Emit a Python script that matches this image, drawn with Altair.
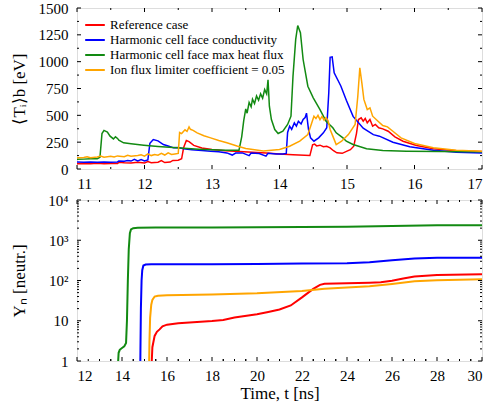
import altair as alt
import pandas as pd

# ---------------- data ----------------
series_names = [
    "Reference case",
    "Harmonic cell face conductivity",
    "Harmonic cell face max heat flux",
    "Ion flux limiter coefficient = 0.05",
]
series_colors = ["#ff0000", "#0000ff", "#128a12", "#ffa500"]

# top panel: <Ti>_b [eV] vs time [ns]
t_red = [11.0, 11.1, 11.2, 11.3, 11.4, 11.5, 11.6, 11.62, 11.7, 11.8, 11.9, 12.0, 12.05, 12.1, 12.2, 12.25,
         12.3, 12.38, 12.42, 12.5, 12.55, 12.58, 12.62, 12.66, 12.73, 12.85, 13.0, 13.2, 13.4, 13.6, 13.8,
         14.0, 14.2, 14.45, 14.49, 14.52, 14.55, 14.6, 14.65, 14.7, 14.75, 14.8, 14.85, 14.93, 15.0, 15.05,
         15.1, 15.14, 15.17, 15.21, 15.24, 15.27, 15.3, 15.34, 15.38, 15.42, 15.47, 15.53, 15.61, 15.71,
         15.83, 16.03, 16.28, 16.62, 17.0]
T_red = [50, 52, 48, 53, 50, 52, 51, 62, 58, 55, 62, 57, 70, 58, 63, 78,
         60, 65, 80, 82, 95, 200, 265, 255, 220, 195, 182, 170, 162, 155, 148,
         140, 132, 125, 225, 232, 215, 222, 207, 212, 197, 170, 151, 146, 166, 180,
         212, 330, 461, 477, 445, 470, 430, 461, 399, 415, 384, 374, 352, 300,
         259, 219, 188, 170, 163]

t_blue = [11.0, 11.1, 11.2, 11.3, 11.4, 11.5, 11.6, 11.62, 11.7, 11.75, 11.8, 11.85, 11.9, 11.95, 12.0,
          12.05, 12.08, 12.13, 12.2, 12.28, 12.35, 12.43, 12.5, 12.58, 12.7, 12.85, 12.98, 13.1, 13.22,
          13.3, 13.35, 13.45, 13.55, 13.58, 13.7, 13.8, 13.83, 13.95, 14.05, 14.1, 14.12, 14.15, 14.18,
          14.22, 14.25, 14.28, 14.32, 14.35, 14.38, 14.4, 14.43, 14.46, 14.51, 14.58, 14.65, 14.7, 14.73,
          14.75, 14.78, 14.81, 14.86, 14.91, 14.99, 15.09, 15.24, 15.39, 15.48, 15.68, 15.93, 16.28,
          16.62, 17.0]
T_blue = [65, 62, 66, 63, 65, 64, 66, 75, 72, 80, 74, 90, 76, 88, 75,
          85, 240, 275, 262, 228, 215, 197, 200, 188, 180, 172, 166, 160, 150,
          130, 148, 150, 125, 148, 145, 120, 146, 140, 140, 145, 340, 399, 370,
          430, 400, 445, 420, 461, 480, 520, 368, 290, 259, 290, 337, 384, 710,
          1040, 1045, 896, 834, 771, 640, 490, 380, 320, 306, 250, 207, 175,
          157, 148]

t_green = [11.0, 11.1, 11.2, 11.3, 11.34, 11.37, 11.4, 11.45, 11.49, 11.54, 11.57, 11.6, 11.62, 11.69,
           11.8, 11.99, 12.2, 12.48, 12.8, 13.0, 13.2, 13.4, 13.44, 13.47, 13.5, 13.52, 13.55, 13.58,
           13.6, 13.63, 13.66, 13.69, 13.72, 13.75, 13.78, 13.81, 13.83, 13.85, 13.88, 13.93, 13.98,
           14.05, 14.12, 14.17, 14.2, 14.24, 14.27, 14.31, 14.35, 14.42, 14.5, 14.6, 14.69, 14.79,
           14.84, 14.94, 14.99, 15.09, 15.29, 15.53, 15.88, 16.4, 17.0]
T_green = [90, 92, 95, 96, 110, 330, 360, 345, 306, 280, 300, 285, 268, 244,
           235, 222, 210, 197, 185, 180, 175, 175, 300, 450, 560, 520, 620, 580,
           650, 610, 680, 640, 700, 660, 740, 700, 830, 585, 461, 368, 331,
           352, 415, 492, 865, 1207, 1337, 1269, 1020, 771, 663, 554, 445, 384,
           337, 290, 259, 228, 188, 172, 166, 163, 160]

t_orange = [11.0, 11.1, 11.15, 11.2, 11.3, 11.35, 11.4, 11.5, 11.55, 11.6, 11.7, 11.75, 11.8, 11.9,
            11.95, 12.0, 12.05, 12.1, 12.15, 12.2, 12.25, 12.3, 12.35, 12.4, 12.45, 12.5, 12.52, 12.55,
            12.6, 12.63, 12.66, 12.68, 12.72, 12.78, 12.88, 12.98, 13.1, 13.22, 13.37, 13.5, 13.76,
            14.0, 14.15, 14.3, 14.42, 14.47, 14.51, 14.54, 14.57, 14.6, 14.63, 14.66, 14.69, 14.72,
            14.75, 14.79, 14.84, 14.92, 15.02, 15.12, 15.16, 15.19, 15.22, 15.25, 15.3, 15.34, 15.38,
            15.46, 15.53, 15.6, 15.68, 15.8, 16.0, 16.28, 16.62, 17.0]
T_orange = [105, 108, 115, 106, 112, 120, 110, 118, 112, 122, 115, 128, 118, 125,
            132, 120, 140, 125, 135, 128, 145, 130, 150, 135, 140, 145, 340, 330,
            365, 350, 392, 370, 360, 337, 310, 290, 265, 244, 215, 192, 168,
            182, 212, 259, 321, 415, 492, 470, 500, 460, 490, 455, 480, 450,
            368, 306, 228, 259, 321, 415, 678, 943, 803, 648, 554, 570, 492,
            445, 405, 393, 352, 290, 238, 197, 175, 166]

# bottom panel: neutron yield vs time [ns]
tb_red = [15.3, 15.35, 15.45, 15.55, 15.67, 15.8, 16.0, 16.5, 17.0, 18.0, 18.5, 19.0, 20.0, 20.5, 21.0,
          21.5, 22.0, 22.5, 22.8, 23.0, 24.0, 25.0, 25.5, 26.0, 26.5, 27.0, 28.0, 30.0]
Y_red = [0.5, 2.2, 4.2, 5.3, 6.1, 7.3, 8.0, 8.7, 9.1, 9.8, 10.5, 12, 14.5, 16.5, 19,
         24, 38, 62, 78, 83, 85, 88, 90, 98, 112, 125, 137, 142]

tb_blue = [14.81, 14.82, 14.84, 14.87, 14.9, 14.95, 15.05, 15.3, 16.0, 18.0, 20.0, 22.0, 24.0, 25.0,
           26.0, 27.0, 28.0, 30.0]
Y_blue = [0.5, 2, 20, 100, 180, 235, 250, 255, 255, 255, 258, 265, 270, 285, 320, 350, 365, 370]

tb_green = [13.8, 13.85, 13.9, 14.0, 14.1, 14.18, 14.22, 14.26, 14.3, 14.35, 14.4, 14.5, 14.7, 15.5,
            18.0, 20.0, 22.0, 24.0, 26.0, 28.0, 30.0]
Y_green = [0.5, 1.6, 1.9, 2.1, 2.3, 2.8, 10, 100, 600, 1500, 1850, 2000, 2050, 2080,
           2080, 2100, 2120, 2150, 2250, 2350, 2350]

tb_orange = [15.2, 15.22, 15.25, 15.3, 15.35, 15.45, 15.6, 16.0, 18.0, 20.0, 22.0, 23.0, 24.0, 25.0,
             26.0, 27.0, 28.0, 30.0]
Y_orange = [0.5, 3, 12, 25, 33, 40, 42, 43, 45, 48, 55, 62, 67, 72, 82, 96, 102, 108]

# axis ticks
top_x_major = [11, 12, 13, 14, 15, 16, 17]
top_x_minor = [11.5, 12.5, 13.5, 14.5, 15.5, 16.5]
top_y_major = [0, 250, 500, 750, 1000, 1250, 1500]
top_y_minor = [125, 375, 625, 875, 1125, 1375]
bot_x_major = [12, 14, 16, 18, 20, 22, 24, 26, 28, 30]
bot_x_minor = [x + d for x in range(12, 30) for d in (0.5, 1.0, 1.5) if (x + d) % 2 != 0 and x + d < 30]
bot_y_major = [1, 10, 100, 1000, 10000]
bot_y_minor = [m * 10 ** e for e in range(4) for m in range(2, 10)]

# ---------------- chart ----------------
W, H = 405, 161
FONT = "Liberation Serif"


def make_df(parts):
    rows = []
    for name, ts, vs in parts:
        for t, v in zip(ts, vs):
            rows.append({"series": name, "t": t, "v": v})
    return pd.DataFrame(rows)


top_df = make_df([(series_names[0], t_red, T_red), (series_names[1], t_blue, T_blue),
                  (series_names[2], t_green, T_green), (series_names[3], t_orange, T_orange)])
bot_df = make_df([(series_names[0], tb_red, Y_red), (series_names[1], tb_blue, Y_blue),
                  (series_names[2], tb_green, Y_green), (series_names[3], tb_orange, Y_orange)])

axis_common = dict(ticks=False, tickSize=0, domain=False, grid=False, labelFont=FONT, labelFontSize=15,
                   labelColor="black", titleFont=FONT, titleFontSize=17, titleColor="black",
                   titleFontWeight="normal")

x_top = alt.X("t:Q", scale=alt.Scale(domain=[11, 17], nice=False, zero=False),
              axis=alt.Axis(values=top_x_major, format="d", title=None, labelPadding=7, **axis_common))
y_top = alt.Y("v:Q", scale=alt.Scale(domain=[0, 1500], nice=False, zero=False),
              axis=alt.Axis(values=top_y_major, format="d", title="⟨Tᵢ⟩b [eV]", titlePadding=11,
                            labelPadding=9, minExtent=38, maxExtent=38, **axis_common))
x_bot = alt.X("t:Q", scale=alt.Scale(domain=[12, 30], nice=False, zero=False),
              axis=alt.Axis(values=bot_x_major, format="d", title="Time, t [ns]", titlePadding=2,
                            labelPadding=7, **axis_common))
y_bot = alt.Y("v:Q", scale=alt.Scale(type="log", domain=[1, 10000], nice=False),
              axis=alt.Axis(values=bot_y_major, title="Yₙ [neutr.]", titlePadding=11,
                            labelPadding=9, minExtent=38, maxExtent=38,
                            labelExpr="datum.value == 1 ? '1' : datum.value == 10 ? '10' : "
                                      "datum.value == 100 ? '10²' : datum.value == 1000 ? '10³' : '10⁴'",
                            **axis_common))

color_scale = alt.Scale(domain=series_names, range=series_colors)


def tick_layers(xenc, yenc, xmaj, xmin, ymaj, ymin):
    layers = []
    for vals, L in [(xmaj, 4), (xmin, 2)]:
        base = alt.Chart(pd.DataFrame({"t": vals})).mark_rule(color="black", strokeWidth=1)
        layers.append(base.encode(x=xenc, y=alt.value(0), y2=alt.value(L)))
        layers.append(base.encode(x=xenc, y=alt.value(H), y2=alt.value(H - L)))
    for vals, L in [(ymaj, 4), (ymin, 2)]:
        base = alt.Chart(pd.DataFrame({"v": vals})).mark_rule(color="black", strokeWidth=1)
        layers.append(base.encode(y=yenc, x=alt.value(0), x2=alt.value(L)))
        layers.append(base.encode(y=yenc, x=alt.value(W), x2=alt.value(W - L)))
    return layers


top_lines = alt.Chart(top_df).mark_line(strokeWidth=1.5, clip=True).encode(
    x=x_top, y=y_top,
    color=alt.Color("series:N", scale=color_scale, sort=series_names,
                    legend=alt.Legend(orient="none", legendX=10, legendY=9, title=None,
                                      symbolType="M-1.4,0L1.4,0", symbolSize=196, symbolStrokeWidth=2,
                                      labelFont=FONT, labelFontSize=13, labelColor="black",
                                      labelLimit=0, labelOffset=7, rowPadding=0, padding=0)),
    order=alt.Order("t:Q"),
)

bot_lines = alt.Chart(bot_df).mark_line(strokeWidth=2, clip=True).encode(
    x=x_bot, y=y_bot,
    color=alt.Color("series:N", scale=color_scale, sort=series_names, legend=None),
    order=alt.Order("t:Q"),
)

top = alt.layer(top_lines, *tick_layers(x_top, y_top, top_x_major, top_x_minor, top_y_major, top_y_minor)
                ).properties(width=W, height=H)
bot = alt.layer(bot_lines, *tick_layers(x_bot, y_bot, bot_x_major, bot_x_minor, bot_y_major, bot_y_minor)
                ).properties(width=W, height=H)

chart = alt.vconcat(top, bot, spacing=31, bounds="flush").resolve_scale(
    x="independent", y="independent", color="shared").resolve_legend(color="independent").properties(
    padding={"left": 9, "top": 0, "right": 0, "bottom": 0}
).configure_view(stroke="black", strokeWidth=1).configure_axis(
    labelFont=FONT, titleFont=FONT).configure_legend(labelFont=FONT).configure(background="white")

chart.save("out.html", embed_options={"renderer": "svg", "actions": False})
